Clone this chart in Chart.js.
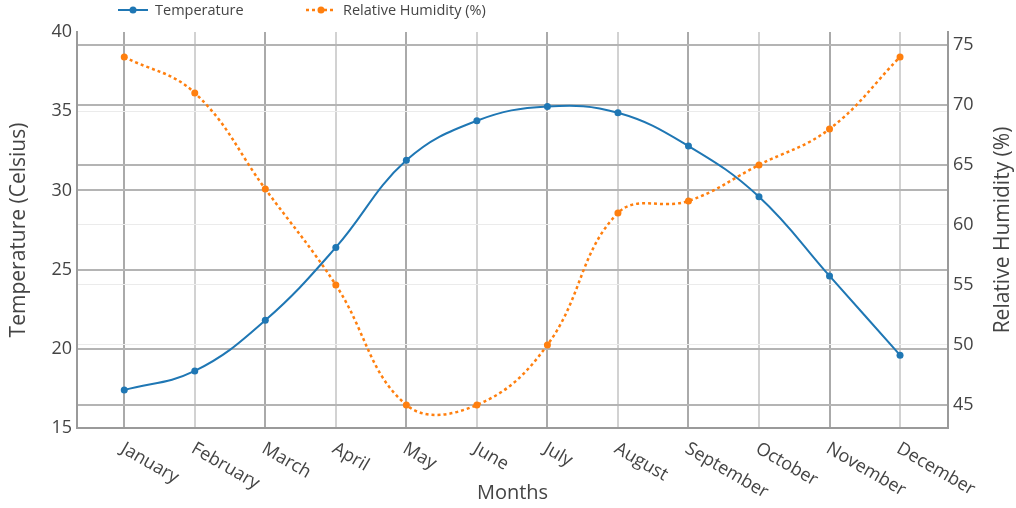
<!DOCTYPE html>
<html>
<head>
<meta charset="utf-8">
<title>Temperature and Relative Humidity</title>
<script src="https://cdn.jsdelivr.net/npm/chart.js@4.4.1/dist/chart.umd.min.js"></script>
<style>
    html, body { margin: 0; padding: 0; background: #fff; }
    #wrap { width: 1016px; height: 508px; position: relative; }
</style>
</head>
<body>
<div id="wrap"><canvas id="climateChart"></canvas></div>
<script>
// Monthly climate data
const months = ["January", "February", "March", "April", "May", "June",
                "July", "August", "September", "October", "November", "December"];
const temperature = [17.4, 18.6, 21.8, 26.4, 31.9, 34.4, 35.3, 34.9, 32.8, 29.6, 24.6, 19.6];
const humidity = [74, 71, 63, 55, 45, 45, 50, 61, 62, 65, 68, 74];
const tempTicks = [15, 20, 25, 30, 35, 40];
const humidityTicks = [45, 50, 55, 60, 65, 70, 75];

// grid shades
const GRID_DARK = '#b4b4b4';
const GRID_LIGHT = '#ebebeb';
const tempGrid = {20: GRID_DARK, 25: GRID_DARK, 30: GRID_DARK, 35: GRID_LIGHT};
const humidityGrid = {45: GRID_DARK, 50: GRID_LIGHT, 55: GRID_LIGHT, 60: GRID_LIGHT,
                      65: GRID_DARK, 70: GRID_DARK, 75: GRID_DARK};

Chart.defaults.font.family = '"Open Sans", sans-serif';
Chart.defaults.color = '#444';

// linear axis whose rotated labels hang down-right from the tick
class MonthScale extends Chart.LinearScale {
    _getXAxisLabelAlignment() {
        return 'left';
    }
}
MonthScale.id = 'monthLinear';
MonthScale.defaults = Chart.LinearScale.defaults;
Chart.register(MonthScale);

// legend row and right-hand axis title
const overlayPlugin = {
    id: 'overlay',
    afterDraw(chart, args, opts) {
        const ctx = chart.ctx;
        ctx.save();
        chart.data.datasets.forEach((ds, i) => {
            const x = opts.legendX[i];
            const y = opts.legendY;
            ctx.strokeStyle = ds.borderColor;
            ctx.lineWidth = ds.borderWidth;
            ctx.setLineDash(ds.borderDash || []);
            ctx.beginPath();
            ctx.moveTo(x, y);
            ctx.lineTo(x + 30, y);
            ctx.stroke();
            ctx.setLineDash([]);
            ctx.fillStyle = ds.pointBackgroundColor;
            ctx.beginPath();
            ctx.arc(x + 15, y, 3.5, 0, Math.PI * 2);
            ctx.fill();
            ctx.fillStyle = '#444';
            ctx.font = '14.5px "Open Sans"';
            ctx.textAlign = 'left';
            ctx.textBaseline = 'middle';
            ctx.fillText(ds.label, x + 37, y + 1);
        });

        const area = chart.chartArea;
        const s = chart.scales.y1;
        ctx.translate(s.right - 13, (area.top + area.bottom) / 2);
        ctx.rotate(-Math.PI / 2);
        ctx.fillStyle = '#444';
        ctx.font = '21px "Open Sans"';
        ctx.textAlign = 'center';
        ctx.textBaseline = 'middle';
        ctx.fillText(opts.rightTitle, 0, 0);
        ctx.restore();
    }
};

const ctx = document.getElementById('climateChart');

new Chart(ctx, {
    type: 'line',
    data: {
        datasets: [{
            label: 'Temperature',
            data: temperature.map((v, i) => ({x: i, y: v})),
            yAxisID: 'y',
            borderColor: '#1f77b4',
            backgroundColor: '#1f77b4',
            pointBackgroundColor: '#1f77b4',
            pointBorderColor: '#1f77b4',
            borderWidth: 2,
            pointRadius: 3.5,
            pointBorderWidth: 0,
            tension: 0.4,
            fill: false
        }, {
            label: 'Relative Humidity (%)',
            data: humidity.map((v, i) => ({x: i, y: v})),
            yAxisID: 'y1',
            borderColor: '#ff7f0e',
            backgroundColor: '#ff7f0e',
            pointBackgroundColor: '#ff7f0e',
            pointBorderColor: '#ff7f0e',
            borderWidth: 2.5,
            borderDash: [3, 3],
            pointRadius: 3.5,
            pointBorderWidth: 0,
            tension: 0.4,
            fill: false
        }]
    },
    options: {
        responsive: true,
        maintainAspectRatio: false,
        animation: false,
        layout: {
            padding: {top: 32, left: 0, right: 0, bottom: 0}
        },
        plugins: {
            legend: {display: false},
            tooltip: {enabled: false},
            overlay: {
                legendX: [118, 306],
                legendY: 10,
                rightTitle: 'Relative Humidity (%)'
            }
        },
        scales: {
            x: {
                type: 'monthLinear',
                min: -0.67,
                max: 11.68,
                afterBuildTicks: (scale) => {
                    scale.ticks = months.map((m, i) => ({value: i}));
                },
                afterFit: (scale) => { scale.height = 80; },
                ticks: {
                    callback: (value) => months[value],
                    minRotation: -30,
                    maxRotation: -30,
                    padding: 10,
                    labelOffset: -2,
                    font: {size: 18},
                    color: '#444'
                },
                grid: {
                    drawTicks: false,
                    color: (c) => (c.index % 2 === 0 ? '#aaaaaa' : '#d2d2d2'),
                    lineWidth: 2
                },
                border: {color: '#9a9a9a', width: 2},
                title: {
                    display: true,
                    text: 'Months',
                    font: {size: 20},
                    color: '#444',
                    padding: {top: 0, bottom: 3}
                }
            },
            y: {
                type: 'linear',
                position: 'left',
                min: 15,
                max: 40,
                afterBuildTicks: (scale) => {
                    scale.ticks = tempTicks.map(v => ({value: v}));
                },
                afterFit: (scale) => { scale.width = 77; },
                ticks: {
                    padding: 5,
                    font: {size: 18},
                    color: '#444'
                },
                grid: {
                    drawTicks: false,
                    color: (c) => (c.tick && tempGrid[c.tick.value]) || 'rgba(0,0,0,0)',
                    lineWidth: (c) => (c.tick && tempGrid[c.tick.value] === GRID_LIGHT ? 1 : 2)
                },
                border: {color: '#9a9a9a', width: 2},
                title: {
                    display: true,
                    text: 'Temperature (Celsius)',
                    font: {size: 21},
                    color: '#444',
                    padding: {top: 6, bottom: 0}
                }
            },
            y1: {
                type: 'linear',
                position: 'right',
                min: 43.08,
                max: 76.08,
                afterBuildTicks: (scale) => {
                    scale.ticks = humidityTicks.map(v => ({value: v}));
                },
                afterFit: (scale) => { scale.width = 68; },
                ticks: {
                    padding: 5,
                    font: {size: 18},
                    color: '#444'
                },
                grid: {
                    drawTicks: false,
                    drawOnChartArea: true,
                    color: (c) => (c.tick && humidityGrid[c.tick.value]) || 'rgba(0,0,0,0)',
                    lineWidth: (c) => (c.tick && humidityGrid[c.tick.value] === GRID_LIGHT ? 1 : 2)
                },
                border: {color: '#9a9a9a', width: 2}
            }
        }
    },
    plugins: [overlayPlugin]
});
</script>
</body>
</html>
